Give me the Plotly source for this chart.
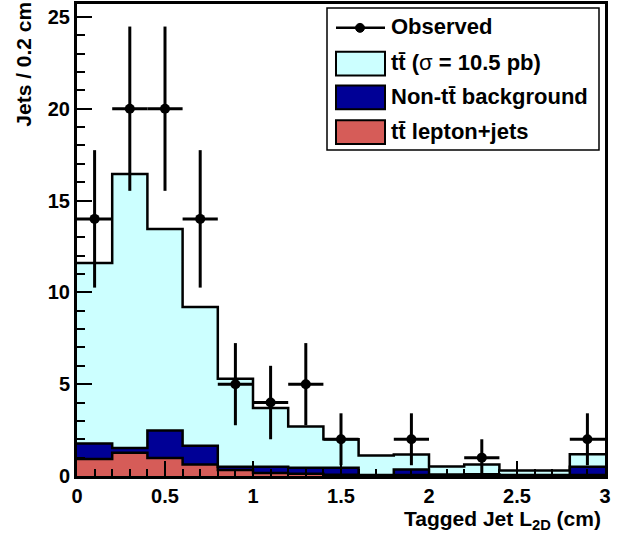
import plotly.graph_objects as go

# ---- data ----
bin_edges = [0.0, 0.2, 0.4, 0.6, 0.8, 1.0, 1.2, 1.4, 1.6, 1.8, 2.0, 2.2, 2.4, 2.6, 2.8, 3.0]
bin_centers = [0.1, 0.3, 0.5, 0.7, 0.9, 1.1, 1.3, 1.5, 1.7, 1.9, 2.1, 2.3, 2.5, 2.7, 2.9]
observed = [14, 20, 20, 14, 5, 4, 5, 2, 0, 2, 0, 1, 0, 0, 2]
tt_lepjets = [0.92, 1.27, 0.98, 0.62, 0.33, 0.17, 0.12, 0.07, 0.02, 0.05, 0.03, 0.04, 0.02, 0.02, 0.05]
non_tt_bkg = [0.85, 0.26, 1.50, 1.03, 0.17, 0.33, 0.33, 0.38, 0.03, 0.31, 0.05, 0.06, 0.03, 0.03, 0.45]
tt_signal = [9.83, 14.92, 10.97, 7.55, 4.80, 3.20, 2.25, 1.55, 1.07, 0.81, 0.44, 0.53, 0.25, 0.25, 0.68]

x_tickvals = [0, 0.5, 1, 1.5, 2, 2.5, 3]
x_ticklabels = ["0", "0.5", "1", "1.5", "2", "2.5", "3"]
y_tickvals = [0, 5, 10, 15, 20, 25]
y_ticklabels = ["0", "5", "10", "15", "20", "25"]

legend_labels = [
    "<b>Observed</b>",
    "<b>tt\u0304 (</b>σ<b> = 10.5 pb)</b>",
    "<b>Non-tt\u0304 background</b>",
    "<b>tt\u0304 lepton+jets</b>",
]
x_title = "Tagged Jet L<sub>2D</sub> (cm)"
y_title = "Jets / 0.2 cm"

# ---- styles ----
C_CYAN = "#ccffff"
C_NAVY = "#000096"
C_RED = "#d65c58"
FONT = "Liberation Sans, Arial, sans-serif"

# stacked cumulative levels
lvl1 = list(tt_lepjets)
lvl2 = [a + b for a, b in zip(lvl1, non_tt_bkg)]
lvl3 = [a + b for a, b in zip(lvl2, tt_signal)]

def step(vals):
    return list(vals) + [vals[-1]]

fig = go.Figure()
for vals, col, fill in [(lvl1, C_RED, "tozeroy"), (lvl2, C_NAVY, "tonexty"), (lvl3, C_CYAN, "tonexty")]:
    fig.add_trace(go.Scatter(
        x=bin_edges, y=step(vals), mode="lines", line=dict(shape="hv", color="black", width=2.5),
        fill=fill, fillcolor=col, showlegend=False, hoverinfo="skip"))

ox = [c for c, n in zip(bin_centers, observed) if n > 0]
oy = [n for n in observed if n > 0]
oerr = [n ** 0.5 for n in oy]
fig.add_trace(go.Scatter(
    x=ox, y=oy, mode="markers",
    marker=dict(symbol="circle", size=10, color="black"),
    error_y=dict(type="data", array=oerr, color="black", thickness=3, width=0),
    error_x=dict(type="constant", value=0.1, color="black", thickness=3, width=0),
    showlegend=False))

# geometry (pixels -> paper)
L, R, T, B = 77, 605, 1, 476
def px(x):
    return (x - L) / (R - L)
def py(y):
    return (B - y) / (B - T)

shapes = []
annotations = []
# legend box
shapes.append(dict(type="rect", xref="paper", yref="paper", x0=px(327), x1=px(599), y0=py(148), y1=py(5),
                   line=dict(color="black", width=1.5), fillcolor="white", layer="above"))
# observed entry
shapes.append(dict(type="line", xref="paper", yref="paper", x0=px(336), x1=px(385), y0=py(25), y1=py(25),
                   line=dict(color="black", width=2.5), layer="above"))
shapes.append(dict(type="circle", xref="paper", yref="paper", x0=px(355.5), x1=px(364.5), y0=py(29.5), y1=py(20.5),
                   line=dict(color="black", width=1), fillcolor="black", layer="above"))
row_y = [25, 61, 95, 130]
for yc, col in zip(row_y[1:], [C_CYAN, C_NAVY, C_RED]):
    shapes.append(dict(type="rect", xref="paper", yref="paper", x0=px(336), x1=px(385), y0=py(yc + 12), y1=py(yc - 12),
                       line=dict(color="black", width=2), fillcolor=col, layer="above"))
for yc, txt in zip(row_y, legend_labels):
    annotations.append(dict(text=txt, xref="paper", yref="paper", x=px(389), y=py(yc - 1), xanchor="left", yanchor="middle",
                            showarrow=False, font=dict(family=FONT, size=22, color="black")))

# axis titles
annotations.append(dict(text="<b>" + x_title + "</b>", xref="paper", yref="paper", x=px(603), y=py(505),
                        xanchor="right", yanchor="top", showarrow=False, font=dict(family=FONT, size=21, color="black")))
annotations.append(dict(text="<b>" + y_title + "</b>", xref="paper", yref="paper", x=px(24), y=py(127), textangle=-90,
                        xanchor="center", yanchor="bottom", showarrow=False, font=dict(family=FONT, size=21, color="black")))

axis_common = dict(showgrid=False, zeroline=False, showline=True, linecolor="black", linewidth=3, mirror=True,
                   ticks="inside", ticklen=15, tickwidth=2, tickcolor="black",
                   tickfont=dict(family=FONT, size=20, color="black", weight="bold"))
fig.update_xaxes(range=[0, 3], tickmode="array", tickvals=x_tickvals, ticktext=["<b>%s</b>" % t for t in x_ticklabels],
                 minor=dict(dtick=0.1, tick0=0, ticks="inside", ticklen=7, tickwidth=2, tickcolor="black", showgrid=False),
                 **axis_common)
fig.update_yaxes(range=[0, 25.7], tickmode="array", tickvals=y_tickvals, ticktext=["<b>%s</b>" % t for t in y_ticklabels],
                 minor=dict(dtick=1, tick0=0, ticks="inside", ticklen=8, tickwidth=2, tickcolor="black", showgrid=False),
                 **axis_common)

fig.update_layout(width=622, height=535, margin=dict(l=L, r=622 - R, t=T, b=535 - B),
                  paper_bgcolor="white", plot_bgcolor="white", showlegend=False,
                  shapes=shapes, annotations=annotations)
fig.write_html("out.html")
